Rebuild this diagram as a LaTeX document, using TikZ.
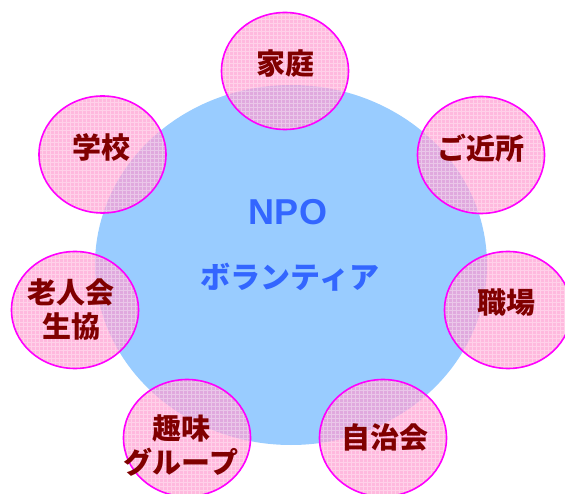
\documentclass[tikz,border=0pt]{standalone}
\usepackage{fontspec}
\newfontfamily\jpfont{Noto Sans CJK JP}
\newfontfamily\npofont{Liberation Sans}
\usetikzlibrary{shapes.geometric}
\definecolor{bigblue}{RGB}{153,204,255}
\definecolor{pinkfill}{RGB}{255,155,208}
\definecolor{ringmag}{RGB}{255,0,255}
\definecolor{darkred}{RGB}{128,0,0}
\definecolor{textblue}{RGB}{51,102,255}
\tikzset{
  bubble/.style={ellipse, draw=ringmag, line width=1.6pt,
    fill=pinkfill, fill opacity=0.7,
    minimum width=127pt, minimum height=117pt, inner sep=0pt,
    path picture={\draw[white, draw opacity=0.35, line width=0.6pt, step=4pt]
      (path picture bounding box.south west) grid (path picture bounding box.north east);}},
  bubbletext/.style={align=center, text=darkred, inner sep=0pt,
    font=\jpfont\bfseries\fontsize{29}{34}\selectfont},
  hub/.style={ellipse, fill=bigblue, draw=none,
    minimum width=392pt, minimum height=360pt}
}
\begin{document}
\begin{tikzpicture}[x=1pt,y=-1pt]
\useasboundingbox (0,0) rectangle (565,494);
\node[hub] (hub) at (291,265) {};
\node[text=textblue, font=\npofont\bfseries\fontsize{36}{40}\selectfont] (npo) at (288,212) {NPO};
\node[text=textblue, font=\jpfont\bfseries\fontsize{30}{34}\selectfont] (vol) at (290,277) {ボランティア};
\node[bubble] (katei) at (285,71) {};
\node[bubble] (gakko) at (102.5,154.5) {};
\node[bubble] (kinjo) at (481,155) {};
\node[bubble] (rojin) at (75,310) {};
\node[bubble] (shoku) at (508,310) {};
\node[bubble] (shumi) at (187,438) {};
\node[bubble] (jichi) at (383,438) {};
\node[bubbletext] (tkatei) at (285,64) {家庭};
\node[bubbletext] (tgakko) at (101,147) {学校};
\node[bubbletext] (tkinjo) at (481,148) {ご近所};
\node[bubbletext] (trojin) at (71,310) {老人会\\生協};
\node[bubbletext] (tshoku) at (506,303) {職場};
\node[bubbletext] (tshumi) at (181,446) {趣味\\グループ};
\node[bubbletext] (tjichi) at (385,437) {自治会};
\end{tikzpicture}
\end{document}
